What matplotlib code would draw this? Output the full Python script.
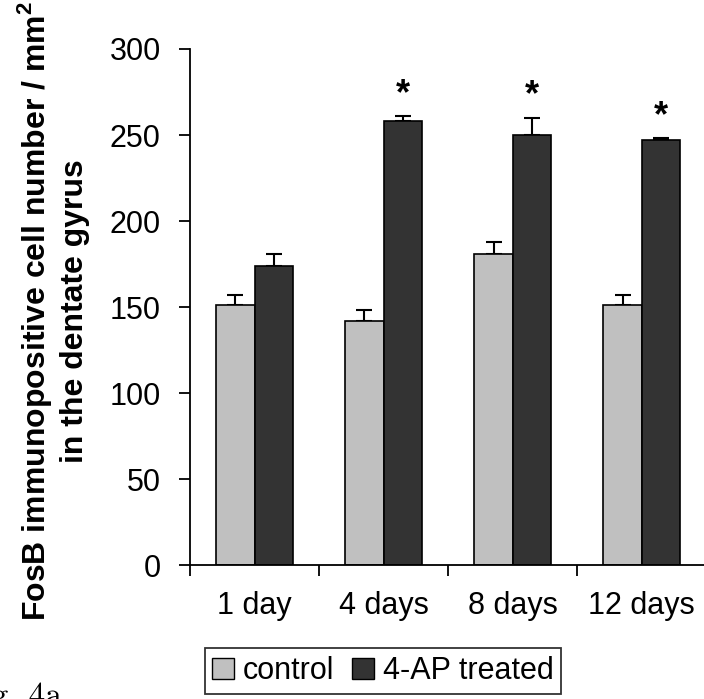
import numpy as np
import matplotlib
matplotlib.use("Agg")
import matplotlib.pyplot as plt
from matplotlib.patches import Patch

plt.rcParams["font.family"] = ["Liberation Sans", "DejaVu Sans"]
plt.rcParams["mathtext.fontset"] = "custom"
plt.rcParams["mathtext.rm"] = "Liberation Sans"
plt.rcParams["mathtext.bf"] = "Liberation Sans:bold"

# Valores
days = ["1 day", "4 days", "8 days", "12 days"]
control = np.array([151, 142, 181, 151])
control_err = np.array([6, 6, 7, 6])
treated = np.array([174, 258, 250, 247])
treated_err = np.array([7, 3, 10, 1])
signif = [False, True, True, True]

fig = plt.figure(figsize=(7.04, 6.99), dpi=100)
ax = fig.add_axes([0.2699, 0.1917, 0.733, 0.7382])

x = np.arange(len(days))
width = 0.295
ax.bar(x - width / 2, control, width, color="#c0c0c0", edgecolor="black",
       linewidth=1.2, label="control", zorder=2)
ax.bar(x + width / 2, treated, width, color="#333333", edgecolor="black",
       linewidth=1.2, label="4-AP treated", zorder=2)
ax.errorbar(x - width / 2, control, yerr=[np.zeros_like(control_err), control_err],
            fmt="none", ecolor="black", elinewidth=1.5, capsize=5.5, capthick=1.5, zorder=1)
ax.errorbar(x + width / 2, treated, yerr=[np.zeros_like(treated_err), treated_err],
            fmt="none", ecolor="black", elinewidth=1.5, capsize=5.5, capthick=1.5, zorder=1)

for xi, top, s in zip(x + width / 2, treated + treated_err, signif):
    if s:
        ax.annotate("*", xy=(xi, top), xytext=(0, 3), textcoords="offset points",
                    ha="center", va="bottom", fontsize=26, fontweight="bold")

ax.set_xlim(-0.5, len(days) - 0.5)
ax.set_ylim(0, 300)
ax.set_yticks(np.arange(0, 301, 50))
ax.set_xticks(x)
ax.set_xticklabels(days)
ax.set_xticks(np.arange(-0.5, len(days) - 0.5, 1.0), minor=True)
ax.tick_params(axis="x", which="major", length=0, pad=19, labelsize=22)
ax.tick_params(axis="x", which="minor", length=8, width=1.3, direction="out")
ax.tick_params(axis="y", length=8, width=1.3, direction="out", pad=13, labelsize=22)
for side in ["top", "right"]:
    ax.spines[side].set_visible(False)
for side in ["left", "bottom"]:
    ax.spines[side].set_linewidth(1.3)

fig.text(0.075, 0.555, "FosB immunopositive cell number / mm$^\\mathbf{2}$\nin the dentate gyrus",
         rotation=90, ha="center", va="center", fontsize=23, fontweight="bold",
         multialignment="center", linespacing=1.25)

handles = [Patch(facecolor="#c0c0c0", edgecolor="black", linewidth=1),
           Patch(facecolor="#333333", edgecolor="black", linewidth=1)]
leg = fig.legend(handles, ["control", "4-AP treated"], loc="center",
                 bbox_to_anchor=(0.544, 0.04), ncol=2, fontsize=22, frameon=True,
                 fancybox=False, edgecolor="black", handlelength=0.7, handleheight=0.7,
                 handletextpad=0.3, columnspacing=0.6, borderpad=0.25, borderaxespad=0)
leg.get_frame().set_linewidth(1.3)

fig.text(0.088, -0.009, "Fig. 4a", ha="right", va="baseline", fontsize=24,
         family="cmr10")

fig.savefig("out.png", dpi=100)
